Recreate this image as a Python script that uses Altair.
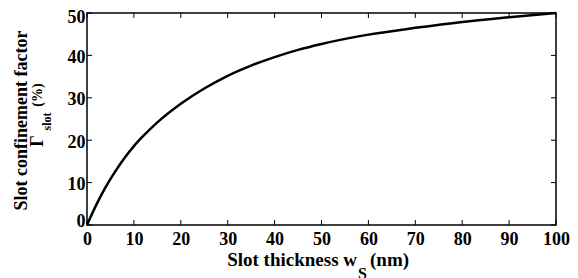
import altair as alt
import pandas as pd

# Data
thickness_nm = [0, 2, 4, 6, 8, 10, 12, 15, 20, 25, 30, 35, 40, 45, 50, 60, 70, 80, 90, 100]
gamma_slot = [0, 4.8, 9.0, 12.6, 15.8, 18.6, 21.0, 24.2, 28.6, 32.2, 35.2, 37.6, 39.6,
              41.3, 42.7, 44.9, 46.5, 47.9, 49.0, 50.0]
x_ticks = [0, 10, 20, 30, 40, 50, 60, 70, 80, 90, 100]
y_ticks = [0, 10, 20, 30, 40, 50]

W, H = 469, 212
FONT = "Liberation Serif"

df = pd.DataFrame({"w": thickness_nm, "g": gamma_slot})
xs = alt.Scale(domain=[0, 100], nice=False, zero=False)
ys = alt.Scale(domain=[0, 50], nice=False)

axis_common = dict(title=None, ticks=False, domain=False, grid=False,
                   labelFont=FONT, labelFontSize=18, labelFontWeight="bold",
                   labelColor="black", labelFlush=False, labelOverlap=False)
x_axis = alt.Axis(values=x_ticks, labelPadding=5, **axis_common)
y_axis = alt.Axis(
    values=y_ticks, labelPadding=2,
    labelOffset={"expr": "datum.value == 0 ? -4 : (datum.value == 50 ? 4 : 2)"},
    **axis_common)

line = alt.Chart(df).mark_line(color="black", strokeWidth=2.5, interpolate="monotone").encode(
    x=alt.X("w:Q", scale=xs, axis=x_axis),
    y=alt.Y("g:Q", scale=ys, axis=y_axis),
)

xt = pd.DataFrame({"t": x_ticks})
yt = pd.DataFrame({"t": y_ticks})
rule = dict(color="black", strokeWidth=1)
bottom_ticks = alt.Chart(xt).mark_rule(**rule).encode(
    x=alt.X("t:Q", scale=xs, axis=x_axis), y=alt.value(H), y2=alt.value(H - 5))
top_ticks = alt.Chart(xt).mark_rule(**rule).encode(
    x=alt.X("t:Q", scale=xs, axis=x_axis), y=alt.value(0), y2=alt.value(5))
left_ticks = alt.Chart(yt).mark_rule(**rule).encode(
    y=alt.Y("t:Q", scale=ys, axis=y_axis), x=alt.value(0), x2=alt.value(5))
right_ticks = alt.Chart(yt).mark_rule(**rule).encode(
    y=alt.Y("t:Q", scale=ys, axis=y_axis), x=alt.value(W), x2=alt.value(W - 5))

one = pd.DataFrame({"k": [0]})


def txt(text, x, y, size, angle=0, align="center", baseline="alphabetic"):
    return alt.Chart(one).mark_text(
        text=text, font=FONT, fontWeight="bold", fontSize=size, angle=angle,
        align=align, baseline=baseline, color="black"
    ).encode(x=alt.value(x), y=alt.value(y))


titles = [
    txt("Slot thickness w", 270, 253, 19, align="right"),
    txt("S", 271, 266, 16, align="left"),
    txt("(nm)", 283, 253, 19, align="left"),
    txt("Slot confinement factor", -60, 107.5, 18, angle=270),
    txt("Γ", -44, 128, 18, angle=270),
    txt("slot", -36, 108.5, 12, angle=270),
    txt("(%)", -45, 82, 14, angle=270),
]

chart = alt.layer(line, bottom_ticks, top_ticks, left_ticks, right_ticks, *titles).properties(
    width=W, height=H,
    autosize=alt.AutoSizeParams(type="none"),
    padding={"left": 79, "top": 5, "right": 14, "bottom": 55},
).configure_view(stroke="black", strokeWidth=1.5)

chart.save("out.html", embed_options={"renderer": "svg", "actions": False})
